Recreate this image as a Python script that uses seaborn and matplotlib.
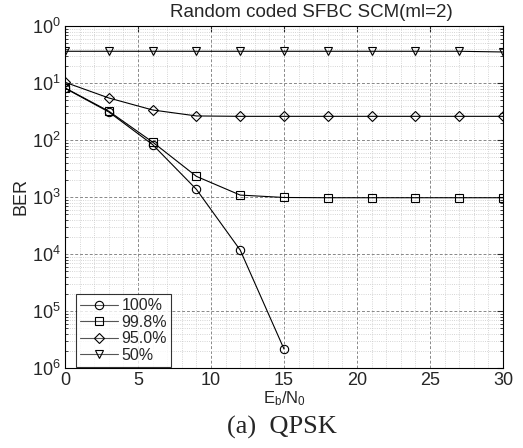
import numpy as np
import pandas as pd
import matplotlib
matplotlib.use('Agg')
import matplotlib.pyplot as plt
import matplotlib.ticker as mticker
import seaborn as sns

# 数据
snr_db = [0, 3, 6, 9, 12, 15, 18, 21, 24, 27, 30]
ber_100 = [0.081, 0.031, 0.0083, 0.00136, 0.000117, 2.15e-6]
ber_998 = [0.082, 0.032, 0.0092, 0.0023, 0.00108, 0.00098, 0.00097, 0.00097, 0.00097, 0.00097, 0.00097]
ber_950 = [0.103, 0.0546, 0.0336, 0.0264, 0.026, 0.026, 0.026, 0.026, 0.026, 0.026, 0.026]
ber_50 = [0.36, 0.36, 0.36, 0.36, 0.36, 0.36, 0.36, 0.36, 0.36, 0.36, 0.35]

labels = ['100%', '99.8%', '95.0%', '50%']
markers = ['o', 's', 'D', 'v']
series = [ber_100, ber_998, ber_950, ber_50]

sns.set_style('white')
plt.rcParams['font.family'] = ['Liberation Sans', 'DejaVu Sans']
plt.rcParams['mathtext.fontset'] = 'custom'
plt.rcParams['mathtext.rm'] = 'Liberation Sans'
plt.rcParams['mathtext.it'] = 'Liberation Sans'

fig = plt.figure(figsize=(5.23, 4.48), dpi=100)
ax = fig.add_axes([0.1243, 0.1786, 0.8375, 0.7634])

for lab, mk, vals in zip(labels, markers, series):
    df = pd.DataFrame({'snr': snr_db[:len(vals)], 'ber': vals})
    sns.lineplot(data=df, x='snr', y='ber', ax=ax, color='black', linewidth=0.8,
                 marker=mk, markersize=6 if mk != 'D' else 5.5, markerfacecolor='none',
                 markeredgecolor='black', markeredgewidth=0.8, label=lab)

ax.set_yscale('log')
ax.set_xlim(0, 30)
ax.set_ylim(1e-6, 1)
ax.xaxis.set_major_locator(mticker.MultipleLocator(5))
ax.xaxis.set_minor_locator(mticker.MultipleLocator(1))
ax.yaxis.set_major_locator(mticker.LogLocator(base=10, numticks=10))
ax.yaxis.set_minor_locator(mticker.LogLocator(base=10, subs=np.arange(2, 10), numticks=20))
ax.yaxis.set_minor_formatter(mticker.NullFormatter())
# 图中刻度标签的负号丢失，按原样显示
ax.yaxis.set_major_formatter(mticker.FuncFormatter(lambda v, p: r'$10^{%d}$' % abs(round(np.log10(v)))))

ax.tick_params(which='major', direction='in', top=True, right=True, length=4, labelsize=13, width=0.8, pad=3)
ax.tick_params(axis='y', which='minor', direction='in', left=True, right=True, length=2, width=0.6)
ax.tick_params(axis='x', which='minor', length=0)
ax.grid(True, which='major', linestyle=(0, (3, 2)), color='#888888', linewidth=0.7)
ax.grid(True, which='minor', linestyle=':', color='#c8c8c8', linewidth=0.6)
for s in ax.spines.values():
    s.set_color('black')
    s.set_linewidth(0.8)

ax.set_xlabel(r'E$_b$/N$_0$', fontsize=12, labelpad=0)
ax.set_ylabel('BER', fontsize=13, labelpad=2)

leg = ax.legend(loc='lower left', bbox_to_anchor=(0.025, 0.003), fontsize=11.5, frameon=True,
                fancybox=False, edgecolor='black', borderpad=0.25, labelspacing=0.1,
                handlelength=2.4, handletextpad=0.2, borderaxespad=0.0)
leg.get_frame().set_linewidth(0.8)
for h in leg.get_lines():
    h.set_color('#555555')

fig.text(0.595, 0.972, 'Random coded SFBC SCM(ml=2)', ha='center', va='center', fontsize=13.5)
fig.text(0.54, 0.045, '(a)  QPSK', ha='center', va='center', fontsize=19,
         family=['Liberation Serif', 'DejaVu Serif'])

plt.savefig('out.png', dpi=100)
plt.close(fig)
